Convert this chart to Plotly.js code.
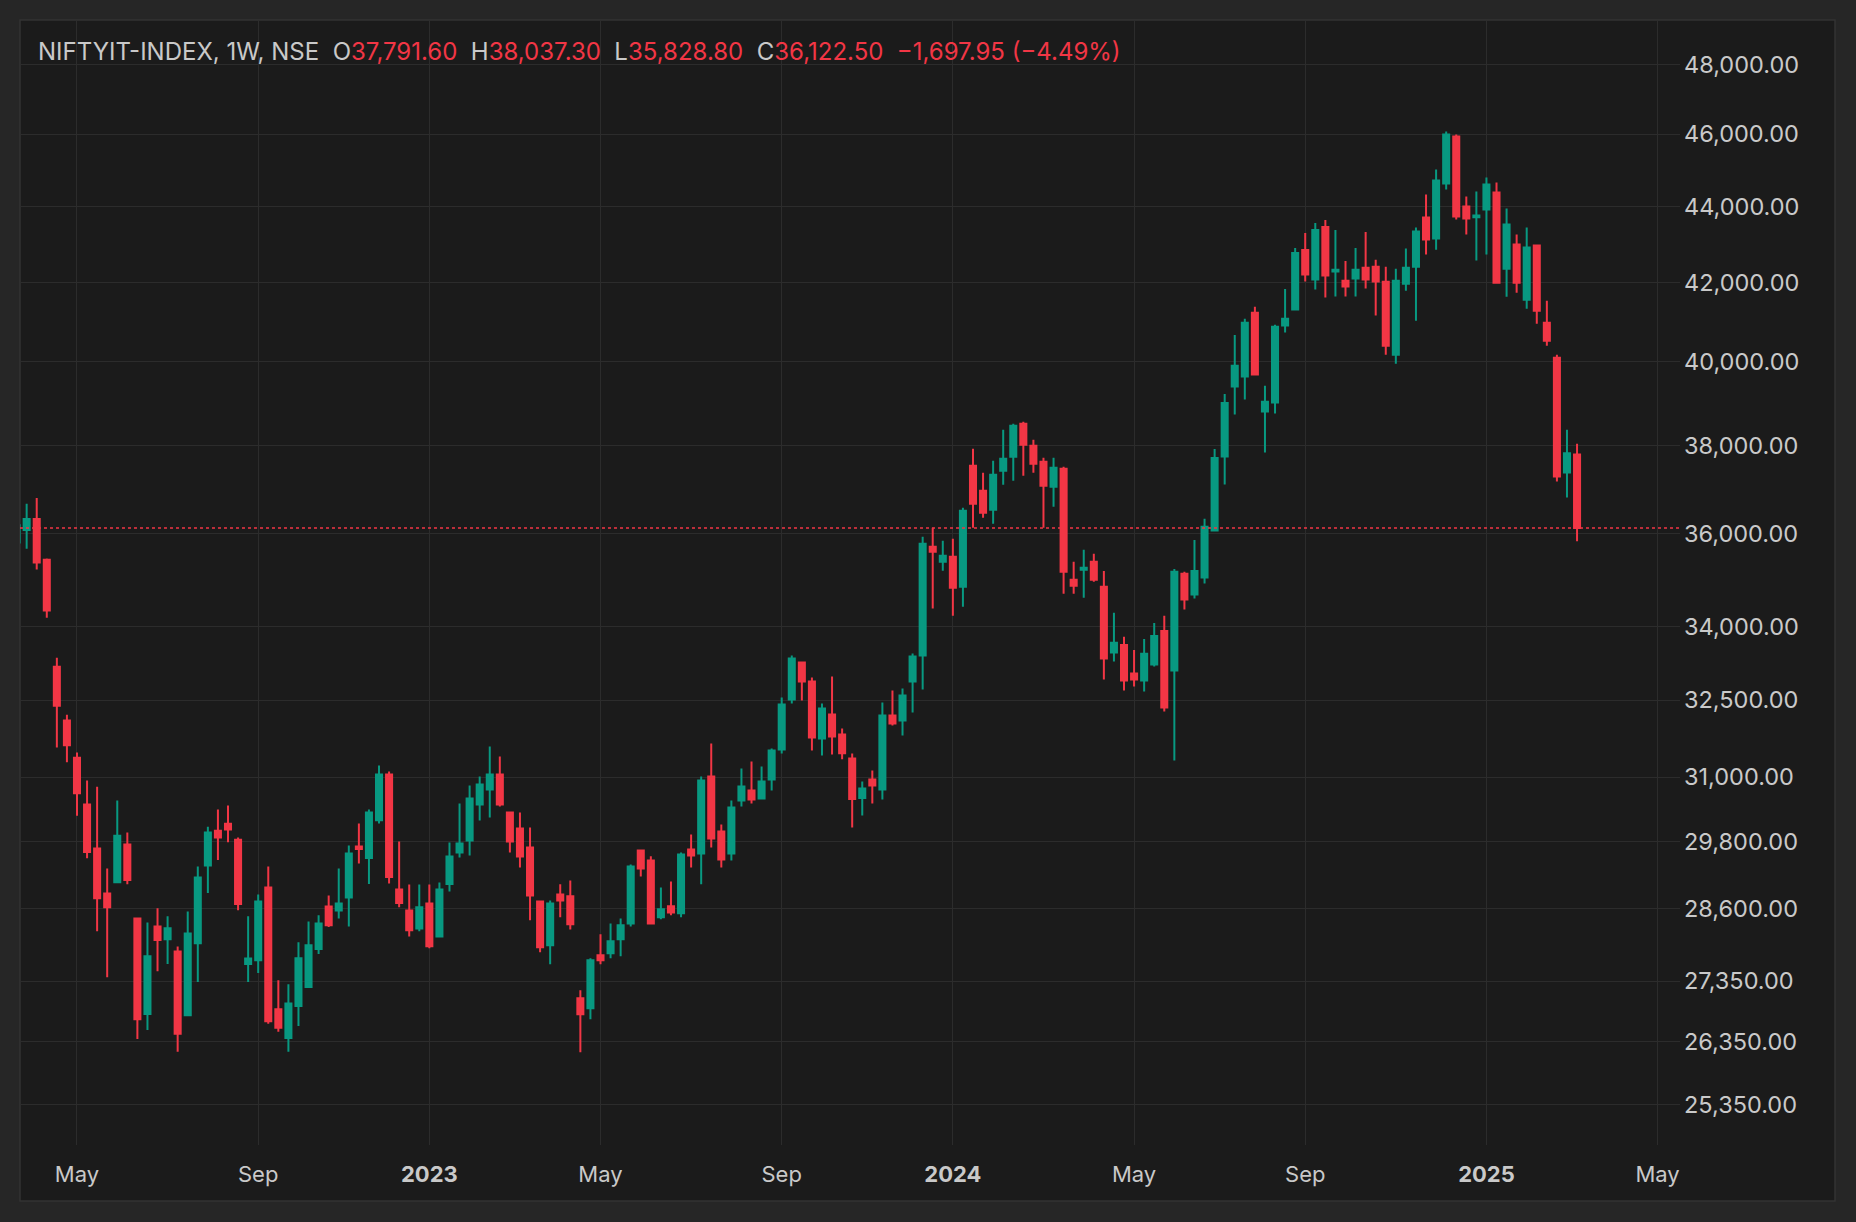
<!DOCTYPE html>
<html>
<head>
<meta charset="utf-8">
<script src="https://cdn.plot.ly/plotly-3.0.1.min.js"></script>
<style>
html,body{margin:0;padding:0;background:#262626;overflow:hidden;}
#chart{width:1856px;height:1222px;}
</style>
</head>
<body>
<div id="chart"></div>
<script>
// ---- Data (weekly candles, NIFTY IT index) ----
const dates = [
'2022-03-21','2022-03-28','2022-04-04','2022-04-11','2022-04-18','2022-04-25','2022-05-02','2022-05-09','2022-05-16','2022-05-23',
'2022-05-30','2022-06-06','2022-06-13','2022-06-20','2022-06-27','2022-07-04','2022-07-11','2022-07-18','2022-07-25','2022-08-01',
'2022-08-08','2022-08-15','2022-08-22','2022-08-29','2022-09-05','2022-09-12','2022-09-19','2022-09-26','2022-10-03','2022-10-10',
'2022-10-17','2022-10-24','2022-10-31','2022-11-07','2022-11-14','2022-11-21','2022-11-28','2022-12-05','2022-12-12','2022-12-19',
'2022-12-26','2023-01-02','2023-01-09','2023-01-16','2023-01-23','2023-01-30','2023-02-06','2023-02-13','2023-02-20','2023-02-27',
'2023-03-06','2023-03-13','2023-03-20','2023-03-27','2023-04-03','2023-04-10','2023-04-17','2023-04-24','2023-05-01','2023-05-08',
'2023-05-15','2023-05-22','2023-05-29','2023-06-05','2023-06-12','2023-06-19','2023-06-26','2023-07-03','2023-07-10','2023-07-17',
'2023-07-24','2023-07-31','2023-08-07','2023-08-14','2023-08-21','2023-08-28','2023-09-04','2023-09-11','2023-09-18','2023-09-25',
'2023-10-02','2023-10-09','2023-10-16','2023-10-23','2023-10-30','2023-11-06','2023-11-13','2023-11-20','2023-11-27','2023-12-04',
'2023-12-11','2023-12-18','2023-12-25','2024-01-01','2024-01-08','2024-01-15','2024-01-22','2024-01-29','2024-02-05','2024-02-12',
'2024-02-19','2024-02-26','2024-03-04','2024-03-11','2024-03-18','2024-03-25','2024-04-01','2024-04-08','2024-04-15','2024-04-22',
'2024-04-29','2024-05-06','2024-05-13','2024-05-20','2024-05-27','2024-06-03','2024-06-10','2024-06-17','2024-06-24','2024-07-01',
'2024-07-08','2024-07-15','2024-07-22','2024-07-29','2024-08-05','2024-08-12','2024-08-19','2024-08-26','2024-09-02','2024-09-09',
'2024-09-16','2024-09-23','2024-09-30','2024-10-07','2024-10-14','2024-10-21','2024-10-28','2024-11-04','2024-11-11','2024-11-18',
'2024-11-25','2024-12-02','2024-12-09','2024-12-16','2024-12-23','2024-12-30','2025-01-06','2025-01-13','2025-01-20','2025-01-27',
'2025-02-03','2025-02-10','2025-02-17','2025-02-24','2025-03-03','2025-03-10'
];
const opens = [
35800,36080,36322,35427,33172,32096,31374,30484,29673,28864,
29065,29746,28424,26805,28284,28065,27853,26787,27996,29364,
29999,30127,29832,27642,27705,28968,26883,26415,26938,27254,
27897,28636,28566,28795,29710,29498,30193,31051,28936,28566,
28252,28689,28114,29031,29600,29819,30485,30767,31051,30336,
30039,29691,28724,27960,28848,28813,27065,26900,27789,27823,
28063,28339,29637,29456,28444,28637,28514,29656,29583,31013,
29985,29583,30560,30748,30598,30956,31531,32513,33260,32874,
31745,32216,31822,31357,30604,30956,30767,32195,32096,32873,
33402,35710,35383,35492,34845,37529,36958,36530,37414,37737,
38508,37992,37621,37049,37460,34995,35210,35383,34845,33464,
33622,33036,32894,33219,33912,33097,35120,34677,35041,36066,
37742,39400,39643,41222,38801,39016,40903,41306,42846,42073,
43455,42281,42039,42099,42376,42405,42019,40176,41967,42408,
43704,43144,44627,45934,44000,43713,43919,44381,42356,42985,
41557,42960,40974,40102,37375,37791.60
];
const highs = [
36400,36664,36795,35450,33357,32210,31472,30937,30820,29312,
30559,29966,28443,28354,28602,28462,27940,28545,29345,30073,
30389,30464,29872,28462,28845,29345,27367,27300,28011,28374,
28479,28830,29311,29728,30132,30391,31223,31108,29801,29025,
29025,29025,29061,29783,30503,30842,31013,31589,31395,30340,
30336,30058,28742,28742,29026,29097,27199,27737,28149,28339,
28426,29384,29656,29529,28972,29079,29601,29930,31013,31648,
30114,30560,31166,31300,31204,31551,32553,33403,33270,32955,
32434,32975,31939,31453,30918,31127,32452,32692,32732,33442,
35930,36129,35842,35886,36575,37922,37368,37644,38367,38508,
38555,38132,37714,37714,37506,35383,35645,35558,35184,34289,
33788,33519,33746,34079,34226,35227,35163,35860,36326,37920,
39222,40668,41070,41374,39417,40920,41833,42899,43295,43561,
43641,43375,42558,42899,43322,42588,42408,42356,42880,43436,
44326,45012,46075,45991,44271,44408,44792,44654,43946,43250,
43436,42970,41531,40176,38367,38037.30
];
const lows = [
35650,35664,35214,34185,31571,31283,30274,29495,28203,27416,
29050,29026,26396,26543,27520,27642,26191,26780,27337,28871,
29462,29786,28570,27337,27489,26644,26514,26190,26610,27240,
27811,28275,28426,28287,29401,29031,30132,29043,28619,28114,
28201,27908,28110,28901,29510,29546,30187,30243,30447,29600,
29329,28392,27840,27636,28444,28235,26184,26719,27636,27737,
27772,28287,29168,28322,28409,28479,28444,29330,29026,29692,
29330,29456,30448,30504,30590,30748,31454,32434,32493,31512,
31415,31435,31344,30059,30280,30504,30579,31998,31802,32254,
32712,34379,35189,34231,34420,36129,36351,36217,37094,37185,
37300,37368,36129,36597,34696,34696,34611,34952,32915,33280,
32693,32774,32673,33178,32274,31318,34360,34592,34912,36060,
37099,38729,39087,39667,37837,38753,40727,41300,42022,41816,
41611,41637,41637,41637,41841,41152,40176,39954,41787,41025,
42722,42853,44463,43650,43250,42565,42722,41967,41634,41736,
41328,40949,40399,37168,36805,35828.80
];
const closes = [
36185,36322,35364,34338,32390,31613,30696,29607,28781,28621,
29906,29104,26721,27773,28052,28253,26484,28165,29149,29966,
29872,30019,28679,27735,28723,26686,26579,26980,27738,27960,
28339,28305,28689,29582,29661,30336,31051,29156,28695,28218,
28619,27942,28936,29528,29764,30597,30861,31051,30485,29801,
29528,28830,27925,28689,28742,28322,26801,27703,27703,28028,
28305,29348,29312,28339,28584,28531,29565,29546,30937,29856,
29474,30429,30824,30579,30918,31512,32414,33341,32874,31764,
32334,31784,31460,30586,30786,30842,32195,32037,32592,33381,
35776,35601,35514,34824,36507,36665,36463,37322,37691,38461,
38016,37575,37072,37483,35167,34867,35254,34995,33342,33664,
32894,32915,33437,33808,32354,35163,34571,35184,36148,37711,
39006,39902,40970,39691,39032,40869,41070,42767,42203,43375,
42177,42324,41893,42324,42073,42020,40399,42045,42382,43330,
43118,44709,45991,43731,43677,43758,44599,41993,43517,41993,
42906,41277,40523,37283,37820.45,36122.50
];

const yTickVals = [25350, 26350, 27350, 28600, 29800, 31000, 32500, 34000, 36000, 38000, 40000, 42000, 44000, 46000, 48000];
const xTickVals = ['2022-05-02','2022-09-05','2023-01-02','2023-05-01','2023-09-04','2024-01-01','2024-05-06','2024-09-02','2025-01-06','2025-05-05'];
const xTickLabels = ['May','Sep','2023','May','Sep','2024','May','Sep','2025','May'];
const symbolLabel = 'NIFTYIT-INDEX, 1W, NSE';

// ---- Styling ----
const UP = '#089981', DOWN = '#f23645';
const TXT = '#c9c9c9';
const FONT = 'Inter, Roboto, "Noto Sans", sans-serif';
const W = 1856, H = 1222;
const M = {l: 20, r: 176, t: 20, b: 77};
const plotW = W - M.l - M.r, plotH = H - M.t - M.b;

function fmt(v) {
  return Math.abs(v).toLocaleString('en-US', {minimumFractionDigits: 2, maximumFractionDigits: 2});
}

const n = closes.length;
const lastO = opens[n-1], lastH = highs[n-1], lastL = lows[n-1], lastC = closes[n-1];
const chg = lastC - closes[n-2];
const pct = chg / closes[n-2] * 100;
const sign = chg < 0 ? '\u2212' : '+';
const valColor = chg < 0 ? DOWN : UP;
const sp = '\u00a0\u00a0';
const sv = t => '<span style="color:' + valColor + '">' + t + '</span>';
const headerText = symbolLabel + sp +
  'O' + sv(fmt(lastO)) + sp +
  'H' + sv(fmt(lastH)) + sp +
  'L' + sv(fmt(lastL)) + sp +
  'C' + sv(fmt(lastC)) + sp +
  sv(sign + fmt(chg) + ' (' + sign + Math.abs(pct).toFixed(2) + '%)');

const xRange = ['2022-03-23 09:00', '2025-05-20 14:00'];
const yRange = [Math.log10(24735), Math.log10(49339)];

const candle = {
  type: 'candlestick',
  x: dates, open: opens, high: highs, low: lows, close: closes,
  increasing: {line: {color: UP, width: 2}, fillcolor: UP},
  decreasing: {line: {color: DOWN, width: 2}, fillcolor: DOWN},
  whiskerwidth: 0,
  hoverinfo: 'skip'
};

const priceLine = {
  type: 'scatter', mode: 'lines',
  x: xRange, y: [lastC, lastC],
  line: {color: DOWN, width: 1.5, dash: 'dot'},
  hoverinfo: 'skip'
};

const layout = {
  width: W, height: H,
  margin: {l: M.l, r: M.r, t: M.t, b: M.b, pad: 0},
  paper_bgcolor: '#262626',
  plot_bgcolor: '#1b1b1b',
  showlegend: false,
  boxgap: 0.4, boxgroupgap: 0,
  font: {family: FONT, color: TXT},
  xaxis: {
    type: 'date', range: xRange,
    tickvals: xTickVals,
    ticktext: xTickLabels.map(t => /^\d{4}$/.test(t) ? '<b>' + t + '</b>' : t),
    showgrid: true, gridcolor: '#2c2c2c', gridwidth: 1,
    zeroline: false, showline: false, ticks: '',
    tickfont: {family: FONT, size: 22, color: TXT},
    ticklabelstandoff: 14,
    rangeslider: {visible: false},
    fixedrange: true
  },
  yaxis: {
    type: 'log', range: yRange, side: 'right',
    tickvals: yTickVals,
    ticktext: yTickVals.map(fmt),
    showgrid: true, gridcolor: '#2c2c2c', gridwidth: 1,
    zeroline: false, showline: false, ticks: '',
    tickfont: {family: FONT, size: 23.5, color: TXT},
    ticklabelstandoff: 3,
    fixedrange: true
  },
  shapes: [{
    type: 'rect', xref: 'paper', yref: 'paper', layer: 'below',
    x0: 0, x1: (1835 - M.l) / plotW,
    y0: (M.t + plotH - 1201) / plotH, y1: 1,
    fillcolor: '#1b1b1b', line: {color: '#333333', width: 1.5}
  }],
  annotations: [{
    xref: 'paper', yref: 'paper',
    x: (36 - M.l) / plotW, y: (M.t + plotH - 51) / plotH,
    xanchor: 'left', yanchor: 'middle', showarrow: false,
    text: headerText,
    font: {family: FONT, size: 24, color: TXT}
  }]
};

Plotly.newPlot('chart', [candle, priceLine], layout, {displayModeBar: false, staticPlot: true});
</script>
</body>
</html>
